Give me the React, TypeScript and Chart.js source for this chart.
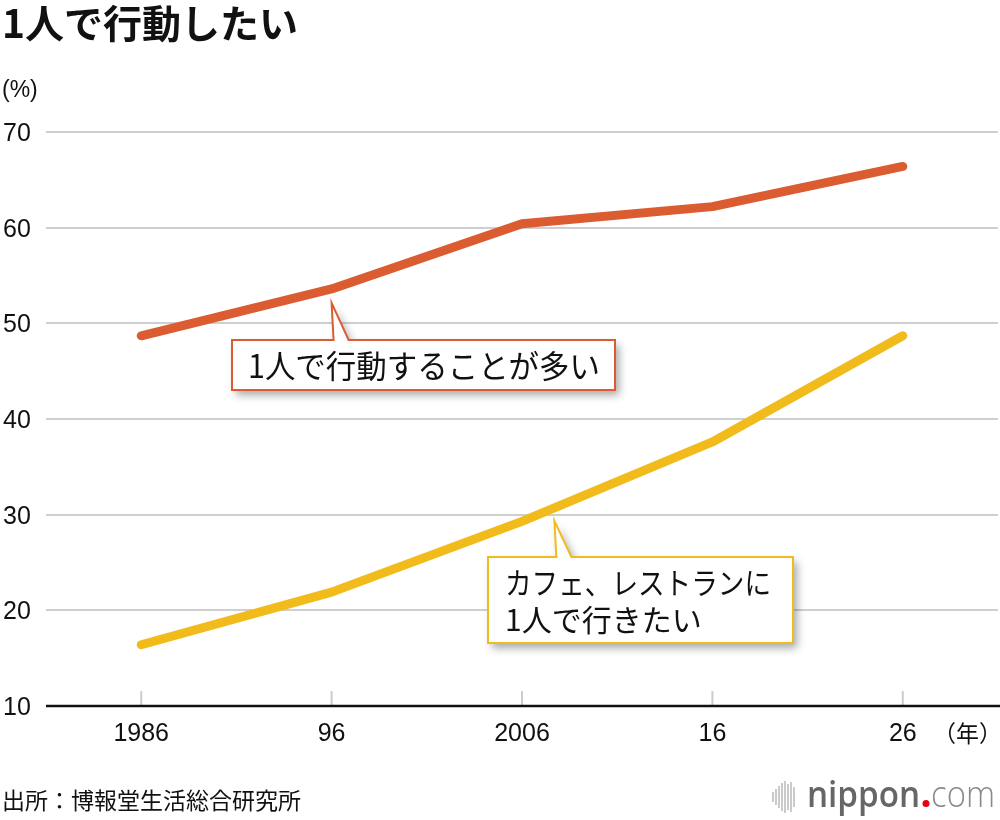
import React, { useEffect, useRef } from "react";
import { Chart, registerables } from "chart.js";

Chart.register(...registerables);

const categories = ["1986", "96", "2006", "16", "26"];
const aloneActionValues = [48.7, 53.6, 60.4, 62.2, 66.4];
const cafeAloneValues = [16.4, 21.9, 29.3, 37.6, 48.7];
const yTickValues = [10, 20, 30, 40, 50, 60, 70];
const aloneActionLabel = ["1人で行動することが多い"];
const cafeAloneLabel = ["カフェ、レストランに", "1人で行きたい"];
const titleText = "1人で行動したい";
const unitText = "(%)";
const yearUnitText = "（年）";
const sourceText = "出所：博報堂生活総合研究所";

const ORANGE = "#DB5C31";
const YELLOW = "#F1BC1B";
const JP = "'Noto Sans CJK JP', 'Noto Sans', sans-serif";
const NUM = "'Liberation Sans', Arial, sans-serif";

function calloutPath(
  ctx: CanvasRenderingContext2D,
  bx: number, by: number, bw: number, bh: number,
  ax: number, ay: number, baseL: number, baseR: number
) {
  ctx.beginPath();
  ctx.moveTo(bx, by);
  ctx.lineTo(baseL, by);
  ctx.lineTo(ax, ay);
  ctx.lineTo(baseR, by);
  ctx.lineTo(bx + bw, by);
  ctx.lineTo(bx + bw, by + bh);
  ctx.lineTo(bx, by + bh);
  ctx.closePath();
}

function drawCallout(
  ctx: CanvasRenderingContext2D,
  box: { x: number; y: number; w: number; h: number },
  ax: number, ay: number, baseL: number, baseR: number,
  color: string
) {
  ctx.save();
  ctx.shadowColor = "rgba(0,0,0,0.35)";
  ctx.shadowBlur = 8;
  ctx.shadowOffsetX = 4;
  ctx.shadowOffsetY = 5;
  calloutPath(ctx, box.x, box.y, box.w, box.h, ax, ay, baseL, baseR);
  ctx.fillStyle = "#ffffff";
  ctx.fill();
  ctx.restore();
  ctx.save();
  calloutPath(ctx, box.x, box.y, box.w, box.h, ax, ay, baseL, baseR);
  ctx.strokeStyle = color;
  ctx.lineWidth = 2;
  ctx.lineJoin = "miter";
  ctx.stroke();
  ctx.restore();
}

const overlayPlugin = {
  id: "overlay",
  afterDraw(chart: any) {
    const ctx: CanvasRenderingContext2D = chart.ctx;
    const xs = chart.scales.x;
    const ys = chart.scales.y;
    const area = chart.chartArea;
    ctx.save();

    // Title
    ctx.fillStyle = "#111";
    ctx.textBaseline = "alphabetic";
    ctx.textAlign = "left";
    ctx.font = `bold 39px ${JP}`;
    ctx.fillText(titleText, 2, 38);

    // Unit
    ctx.font = `23px ${NUM}`;
    ctx.fillStyle = "#111";
    ctx.textBaseline = "middle";
    ctx.fillText(unitText, 2, 91);

    // Y tick labels
    ctx.font = `25px ${NUM}`;
    yTickValues.forEach((v) => {
      ctx.fillText(String(v), 3, ys.getPixelForValue(v) + 2, 28);
    });

    // X axis ticks (short gray marks)
    ctx.strokeStyle = "#cccccc";
    ctx.lineWidth = 2;
    categories.forEach((_, i) => {
      const px = xs.getPixelForValue(i);
      ctx.beginPath();
      ctx.moveTo(px, area.bottom - 15);
      ctx.lineTo(px, area.bottom);
      ctx.stroke();
    });

    // X axis line
    ctx.strokeStyle = "#111";
    ctx.lineWidth = 2.5;
    ctx.beginPath();
    ctx.moveTo(area.left, area.bottom);
    ctx.lineTo(1000, area.bottom);
    ctx.stroke();

    // X labels
    ctx.textAlign = "center";
    ctx.font = `25px ${NUM}`;
    categories.forEach((c, i) => {
      ctx.fillText(c, xs.getPixelForValue(i), area.bottom + 28);
    });
    ctx.textAlign = "right";
    ctx.font = `23px ${JP}`;
    ctx.fillText(yearUnitText, 1002, area.bottom + 27);

    // Callout 1 (orange)
    const o1x = xs.getPixelForValue(1);
    const o1y = ys.getPixelForValue(aloneActionValues[1]) + 14;
    drawCallout(ctx, { x: 232, y: 340, w: 383, h: 50 }, o1x, o1y, o1x + 2, o1x + 17, ORANGE);
    ctx.fillStyle = "#111";
    ctx.textAlign = "left";
    ctx.textBaseline = "middle";
    ctx.font = `32px ${JP}`;
    ctx.fillText(aloneActionLabel[0], 248, 366, 352);

    // Callout 2 (yellow)
    const x2 = xs.getPixelForValue(2);
    const x3 = xs.getPixelForValue(3);
    const t = 0.17;
    const y2 = ys.getPixelForValue(cafeAloneValues[2]);
    const y3 = ys.getPixelForValue(cafeAloneValues[3]);
    const a2x = x2 + (x3 - x2) * t;
    const a2y = y2 + (y3 - y2) * t + 13;
    drawCallout(ctx, { x: 488, y: 557, w: 305, h: 86 }, a2x, a2y, a2x + 2, a2x + 17, YELLOW);
    ctx.fillStyle = "#111";
    ctx.font = `30px ${JP}`;
    ctx.fillText(cafeAloneLabel[0], 505, 583, 266);
    ctx.fillText(cafeAloneLabel[1], 505, 620);

    // Source
    ctx.font = `23px ${JP}`;
    ctx.textBaseline = "middle";
    ctx.fillText(sourceText, 2, 800, 308);

    // nippon.com logo
    const bars: number[][] = [
      [773, 10], [776, 16], [779, 22], [782, 28], [785, 32], [788, 26], [791, 30], [794, 20],
    ];
    ctx.strokeStyle = "#bdbdbd";
    ctx.lineWidth = 1.6;
    bars.forEach(([bx, h]) => {
      ctx.beginPath();
      ctx.moveTo(bx, 797 - h / 2);
      ctx.lineTo(bx, 797 + h / 2);
      ctx.stroke();
    });
    ctx.textBaseline = "alphabetic";
    ctx.textAlign = "left";
    ctx.font = `600 36px 'Open Sans', Roboto, ${NUM}`;
    ctx.fillStyle = "#666666";
    ctx.fillText("nippon", 807, 807, 113);
    ctx.fillStyle = "#E60012";
    ctx.beginPath();
    ctx.arc(926, 803.5, 3.5, 0, Math.PI * 2);
    ctx.fill();
    ctx.font = `300 36px 'Open Sans', Roboto, ${NUM}`;
    ctx.fillStyle = "#8a8a8a";
    ctx.fillText("com", 931, 807, 64);

    ctx.restore();
  },
};

export default function App() {
  const ref = useRef<HTMLCanvasElement | null>(null);
  useEffect(() => {
    if (!ref.current) return;
    const chart = new Chart(ref.current, {
      type: "line",
      data: {
        labels: categories,
        datasets: [
          {
            label: aloneActionLabel[0],
            data: aloneActionValues,
            borderColor: ORANGE,
            borderWidth: 9,
            borderCapStyle: "round",
            borderJoinStyle: "round",
            pointRadius: 0,
            tension: 0,
            clip: false as any,
          },
          {
            label: cafeAloneLabel.join(""),
            data: cafeAloneValues,
            borderColor: YELLOW,
            borderWidth: 9,
            borderCapStyle: "round",
            borderJoinStyle: "round",
            pointRadius: 0,
            tension: 0,
            clip: false as any,
          },
        ],
      },
      options: {
        responsive: false,
        animation: false,
        devicePixelRatio: 1,
        layout: { padding: { left: 46, right: 2, top: 132, bottom: 114 } },
        plugins: {
          legend: { display: false },
          tooltip: { enabled: false },
          title: { display: false },
        },
        scales: {
          x: {
            type: "category",
            offset: true,
            display: false,
          },
          y: {
            min: 10,
            max: 70,
            ticks: { display: false, stepSize: 10 },
            border: { display: false },
            grid: { color: "#cfcfcf", lineWidth: 2, drawTicks: false },
          },
        },
      },
      plugins: [overlayPlugin],
    });
    return () => chart.destroy();
  }, []);
  return (
    <div style={{ position: "absolute", left: 0, top: 0, width: 1000, height: 820, background: "#fff" }}>
      <canvas ref={ref} width={1000} height={820} style={{ display: "block" }} />
    </div>
  );
}
